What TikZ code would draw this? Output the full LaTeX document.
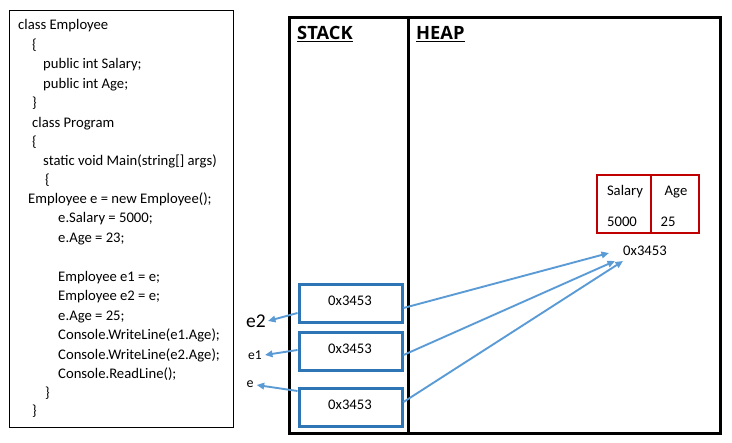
\documentclass[tikz,border=0pt]{standalone}
\usepackage{fontspec}
\setmainfont{Carlito}
\newfontfamily\headfont{Open Sans}
\usetikzlibrary{arrows.meta}
\definecolor{boxblue}{HTML}{2E75B6}
\definecolor{arrblue}{HTML}{5B9BD5}
\definecolor{objred}{HTML}{C00000}
\tikzset{
  codeline/.style={anchor=base west, inner sep=0pt, font=\fontsize{14.67}{14.67}\selectfont},
  frame/.style={draw=black, line width=3pt, minimum height=416pt, inner sep=0pt},
  slot/.style={draw=boxblue, line width=3pt, minimum width=103pt, minimum height=38pt, inner sep=0pt},
  slottext/.style={inner sep=0pt, font=\fontsize{14.67}{14.67}\selectfont},
  cell/.style={draw=objred, line width=2pt, minimum height=58pt, inner sep=0pt},
  celltext/.style={inner sep=0pt, font=\fontsize{14.67}{14.67}\selectfont},
  ref/.style={draw=arrblue, line width=1.9pt, -{Triangle[length=7.5pt,width=6.5pt]}},
  head/.style={anchor=base west, inner sep=0pt, font=\headfont\bfseries\fontsize{18.3}{18.3}\selectfont},
}
\begin{document}
\begin{tikzpicture}[x=1pt,y=-1pt]
\useasboundingbox (0,0) rectangle (732,443);
% code box
\node[draw=black, line width=1pt, minimum width=224pt, minimum height=417pt, inner sep=0pt] (code) at (121,219.5) {};
\node[codeline] (l1) at (18,30) {class Employee};
\node[codeline] (l2) at (32,50) {\{};
\node[codeline] (l3) at (43,69) {public int Salary;};
\node[codeline] (l4) at (43,89) {public int Age;};
\node[codeline] (l5) at (32,108) {\}};
\node[codeline] (l6) at (32,128) {class Program};
\node[codeline] (l7) at (32,147) {\{};
\node[codeline] (l8) at (43,166) {static void Main(string[] args)};
\node[codeline] (l9) at (45,185) {\{};
\node[codeline] (l10) at (28,204) {Employee e = new Employee();};
\node[codeline] (l11) at (58,223) {e.Salary = 5000;};
\node[codeline] (l12) at (58,243) {e.Age = 23;};
\node[codeline] (l13) at (58,282) {Employee e1 = e;};
\node[codeline] (l14) at (58,301) {Employee e2 = e;};
\node[codeline] (l15) at (58,321) {e.Age = 25;};
\node[codeline] (l16) at (58,340) {Console.WriteLine(e1.Age);};
\node[codeline] (l17) at (58,360) {Console.WriteLine(e2.Age);};
\node[codeline] (l18) at (58,379) {Console.ReadLine();};
\node[codeline] (l19) at (45,398) {\}};
\node[codeline] (l20) at (32,416) {\}};
% stack / heap frame
\node[frame, minimum width=119pt] (stack) at (348.5,226) {};
\node[frame, minimum width=312pt] (heap) at (564,226) {};
\node[head] (stacklbl) at (297,40) {\underline{STACK}};
\node[head] (heaplbl) at (416,40) {\underline{HEAP}};
% stack slots
\node[slot] (s1) at (350.5,304) {};
\node[slot] (s2) at (350.5,352) {};
\node[slot] (s3) at (350.5,408) {};
\node[slottext] (t1) at (350,301) {0x3453};
\node[slottext] (t2) at (350,349) {0x3453};
\node[slottext] (t3) at (350,405) {0x3453};
% variable names
\node[inner sep=0pt, font=\fontsize{19.5}{19.5}\selectfont] (e2) at (256,321) {e2};
\node[inner sep=0pt, font=\fontsize{13.5}{13.5}\selectfont] (e1) at (255,355) {e1};
\node[inner sep=0pt, font=\fontsize{14}{14}\selectfont] (e) at (250,384) {e};
% heap object
\node[cell, minimum width=54pt] (sal) at (624,204) {};
\node[cell, minimum width=48pt] (age) at (675,204) {};
\node[celltext] (saltxt) at (625,192) {Salary};
\node[celltext] (agetxt) at (676,192) {Age};
\node[celltext] (salval) at (622,222) {5000};
\node[celltext] (ageval) at (668,222) {25};
\node[celltext] (addr) at (645,251) {0x3453};
\coordinate (h1) at (609,253);
\coordinate (h2) at (615,261);
\coordinate (h3) at (623,261);
% references
\draw[ref] ([yshift=-9pt]s1.west) -- ([xshift=2pt]e2.east);
\draw[ref] ([yshift=2pt]s2.west) -- ([xshift=3pt]e1.east);
\draw[ref] ([yshift=17pt]s3.west) -- ([xshift=3pt,yshift=-1pt]e.east);
\draw[ref] ([yshift=-4pt]s1.east) -- (h1);
\draw[ref] ([yshift=-3pt]s2.east) -- (h2);
\draw[ref] ([yshift=6pt]s3.east) -- (h3);
\end{tikzpicture}
\end{document}
